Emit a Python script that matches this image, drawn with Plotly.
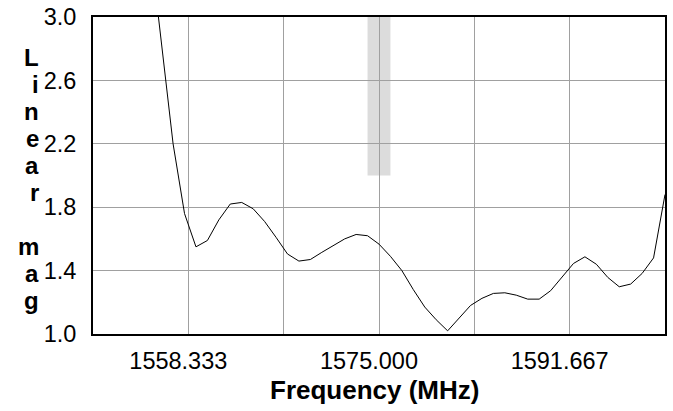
import plotly.graph_objects as go

freq_mhz = list(range(1555, 1601))
linear_mag = [3.45, 2.82, 2.20, 1.76, 1.55, 1.59, 1.72, 1.82, 1.83, 1.79,
              1.71, 1.61, 1.505, 1.46, 1.47, 1.515, 1.56, 1.60, 1.628, 1.62,
              1.567, 1.49, 1.40, 1.28, 1.17, 1.09, 1.02, 1.10, 1.18, 1.225,
              1.256, 1.26, 1.245, 1.22, 1.22, 1.273, 1.357, 1.445, 1.487, 1.44,
              1.357, 1.298, 1.315, 1.382, 1.48, 1.88]

x_gridvals = [1558.333, 1566.667, 1575.0, 1583.333, 1591.667]
x_ticktext = ["1558.333", "", "1575.000", "", "1591.667"]
y_tickvals = [1.0, 1.4, 1.8, 2.2, 2.6, 3.0]

band_x = [1574.0, 1576.0]
band_y = [2.0, 3.0]

ytitle_letters = ["L", "i", "n", "e", "a", "r", "", "m", "a", "g"]
xtitle = "Frequency (MHz)"

FONT = "Liberation Sans, Arial, sans-serif"

fig = go.Figure()
fig.add_trace(go.Scatter(x=freq_mhz, y=linear_mag, mode="lines",
                         line=dict(color="black", width=1), showlegend=False,
                         hoverinfo="x+y"))

fig.add_shape(type="rect", xref="x", yref="y", x0=band_x[0], x1=band_x[1],
              y0=band_y[0], y1=band_y[1], fillcolor="#dcdcdc",
              line=dict(width=0), layer="below")

W, H = 673, 411
ml, mr, mt, mb = 93, 8, 17, 77
ph = H - mt - mb
pw = W - ml - mr

# stacked vertical title letters
top_px = 57.5
step_px = 27.0
for i, ch in enumerate(ytitle_letters):
    if not ch:
        continue
    cy = top_px + i * step_px
    fig.add_annotation(text="<b>%s</b>" % ch, xref="paper", yref="paper",
                       x=(41 - ml) / pw, y=(H - mb - cy) / ph,
                       xanchor="right", yanchor="middle", showarrow=False,
                       font=dict(family=FONT, size=24, color="black"))

# x-axis title
fig.add_annotation(text="<b>%s</b>" % xtitle, xref="paper", yref="paper",
                   x=(374 - ml) / pw, y=(H - mb - 390) / ph,
                   xanchor="center", yanchor="middle", showarrow=False,
                   font=dict(family=FONT, size=26, color="black"))

fig.update_layout(
    width=W, height=H,
    margin=dict(l=ml, r=mr, t=mt, b=mb, autoexpand=False),
    plot_bgcolor="white", paper_bgcolor="white",
    font=dict(family=FONT, color="black"),
    xaxis=dict(range=[1550, 1600], tickvals=x_gridvals, ticktext=x_ticktext,
               showgrid=True, gridcolor="#a0a0a0", gridwidth=1,
               showline=True, linecolor="black", linewidth=2, mirror=True,
               zeroline=False, ticks="", ticklabelstandoff=5,
               ticklabelshift=-10,
               tickfont=dict(family=FONT, size=23.5, color="black")),
    yaxis=dict(range=[1.0, 3.0], tickvals=y_tickvals, tickformat=".1f",
               showgrid=True, gridcolor="#a0a0a0", gridwidth=1,
               showline=True, linecolor="black", linewidth=2, mirror=True,
               zeroline=False, ticks="", ticklabelstandoff=10,
               tickfont=dict(family=FONT, size=23.5, color="black")),
)

fig.write_html("out.html", config={"displayModeBar": False},
               post_script="document.body.style.margin='0';")
